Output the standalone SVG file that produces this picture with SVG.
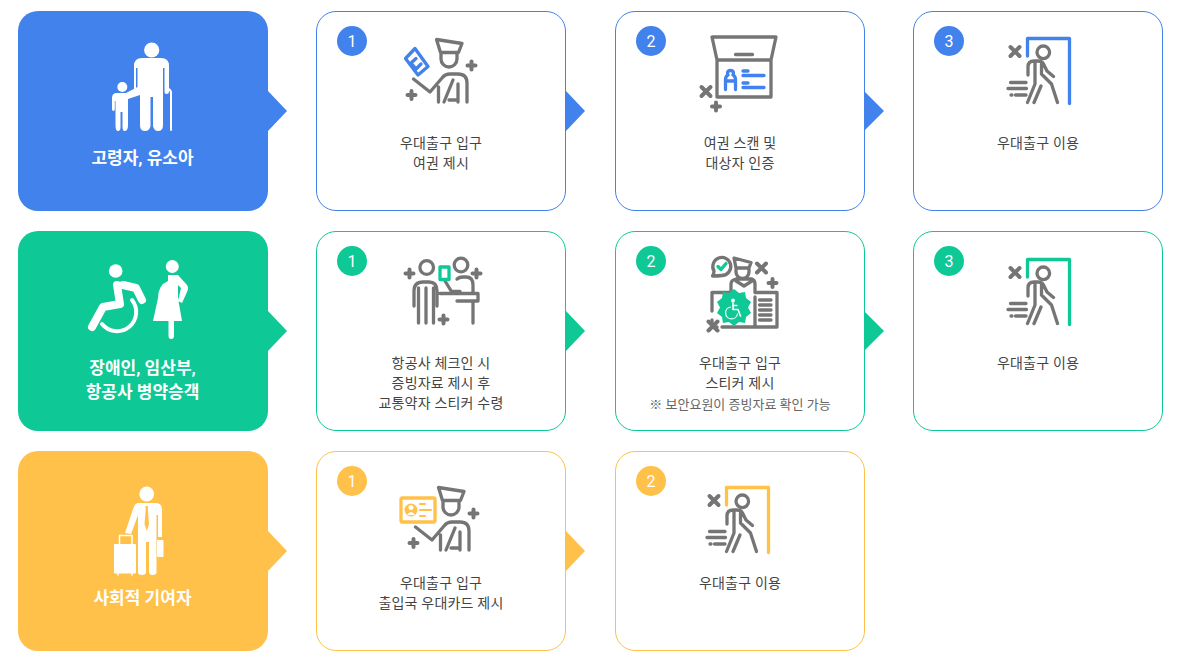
<svg xmlns="http://www.w3.org/2000/svg" width="1180" height="661" viewBox="0 0 1180 661">
<style>
text{font-family:Roboto,"Noto Sans CJK KR",sans-serif;text-anchor:middle}
.lbl{font-size:14px;fill:#444;letter-spacing:.2px}
.sm{font-size:13px;fill:#666}
.hd{font-size:17px;font-weight:700;fill:#fff}
.num{font-size:16px;fill:#fff}
.card{fill:#fff;stroke-width:1}
.blue{color:#4282ec;fill:#4282ec}
.green{color:#0ec896;fill:#0ec896}
.yellow{color:#ffc149;fill:#ffc149}
.cs{stroke:currentColor;fill:none}
.g{fill:none;stroke:#757575;stroke-width:3.300;stroke-linecap:round;stroke-linejoin:round}
.t{fill:none;stroke:#757575;stroke-width:4;stroke-linecap:round;stroke-linejoin:round}
.c{fill:none;stroke:currentColor;stroke-width:3.300;stroke-linecap:round;stroke-linejoin:round}
.w{fill:none;stroke:#fff;stroke-linecap:round;stroke-linejoin:round}
</style>
<defs>
<g id="walker">
<path class="c" d="M1027.500 56V38.500H1069.500V103.500"/>
<circle class="g" cx="1043.300" cy="52.300" r="6.300"/>
<path class="t" d="M1010.500 47l9 9m0-9l-9 9"/>
<path class="g" d="M1028 75V67Q1028 61 1034 61H1038Q1042 61 1043.500 64L1047 71L1053.500 76.500M1035 63V84L1027.500 102.500M1041.500 64V74L1051.500 84L1057.500 102.500M1041 86L1034 102.500M1008 88.500H1026.500M1010.500 82.500H1026M1011 95H1012M1015.500 95H1026"/>
</g>
<g id="officer">
<path class="g" d="M436.500 39.500L462 43.500L458.500 52.500H440.500ZM441 53V59A8 8 0 0 0 457 59V53M413.500 79L430 92L442 78Q445 74 450 74H458Q467 74 467 83V102M438.500 102V87M444 102L453 80M449 100H458M458 84V102"/>
<path class="t" d="M471.500 61.500v8m-4-4h8M411.500 91v8m-4-4h8"/>
</g>
<g id="wheelIcon">
<circle cx="0" cy="-8.500" r="1.900" fill="#fff"/>
<path class="w" stroke-width="1.600" d="M0-6V.5H5L7.500 7"/>
<path class="w" stroke-width="1.200" d="M-2.500-2A6 6 0 1 0 4.500 5"/>
<path class="w" stroke-width="1.300" d="M0-3.500H4"/>
</g>
</defs>

<g id="connectors">
<path class="blue" d="M268 91L287 111L268 131Z"/>
<path class="blue" d="M566 91L585 111L566 131Z"/>
<path class="blue" d="M864 91L884 111L864 131Z"/>
<path class="green" d="M268 311L287 331L268 351Z"/>
<path class="green" d="M566 311L585 331L566 351Z"/>
<path class="green" d="M864 311L884 331L864 351Z"/>
<path class="yellow" d="M268 531L287 551L268 571Z"/>
<path class="yellow" d="M566 531L585 551L566 571Z"/>
</g>

<g id="group-elderly">
<rect class="blue" x="18" y="11" width="250" height="200" rx="20"/>
<circle cx="151.700" cy="50" r="7.600" fill="#fff"/>
<path fill="#fff" d="M142 58H161Q169 58 169 66V92Q169 94 166.500 94Q164.500 94 164.500 92V68H163V125Q163 131 158 131Q154 131 153 126V97H150.500V126Q149.500 131 145 131Q140 131 140 125V95L128 99V125Q128 131 124.500 131Q122.500 131 122.500 127V112H120.500V127Q120.500 131 118 131Q115.500 131 115.500 125V101H114.800V109Q114.800 111 113.500 111Q112 111 112 109V98Q112 93 117 93H126L137.500 87V68H136V92Q135 94 134 94V66Q134 58 142 58Z"/>
<circle cx="122.300" cy="87" r="5" fill="#fff"/>
<path class="w" stroke-width="2" d="M167 89Q171 89 171 93V130"/>
<text class="hd" x="142.500" y="164">고령자, 유소아</text>
</g>
<g id="group-disabled">
<rect class="green" x="18" y="231" width="250" height="200" rx="20"/>
<circle cx="115.700" cy="271" r="6.800" fill="#fff"/>
<path class="w" stroke-width="8" d="M117 285L120 304L103 307L92 327M123 285L136 288L142 300"/>
<path class="w" stroke-width="4" d="M102 324A18.500 18.500 0 1 0 132 300"/>
<circle cx="172.300" cy="266.500" r="6.500" fill="#fff"/>
<path fill="#fff" d="M168 275H178L187 285Q189 288 187 292L182 303L178 301L181 288L178 285V298L182 321H174V336Q174 339 171.200 339Q168.500 339 168.500 336V321H153L158 298Q158 285 168 281Z"/>
<text class="hd" x="142.500" y="374">장애인, 임산부,</text>
<text class="hd" x="142.500" y="398">항공사 병약승객</text>
</g>
<g id="group-contributor">
<rect class="yellow" x="18" y="451" width="250" height="200" rx="20"/>
<circle cx="146.700" cy="494" r="7.400" fill="#fff"/>
<path fill="#fff" d="M138 503H156Q162 503 162 510V537H158V515H156.500V572Q156.500 575 152.500 575Q149 575 149 572V542H146V572Q146 575 142 575Q138 575 138 572V515L131 534L125 533L133 509Q135 503 138 503Z"/>
<path fill="#ffc149" d="M145.500 506H148L147.800 509L149 524L146.800 531L144.500 524L145.700 509Z"/>
<rect x="114" y="544" width="22" height="29.500" rx="1" fill="#fff"/>
<path class="w" stroke-width="1.500" d="M119.500 544V535.500H132V544M118 573.500V575M132 573.500V575"/>
<rect x="157" y="540" width="6.500" height="17" rx="1" fill="#fff"/>
<text class="hd" x="142.500" y="604">사회적 기여자</text>
</g>

<g id="r1-step1" class="blue">
<rect class="card cs" x="316.500" y="11.500" width="249" height="199" rx="19.500"/>
<circle cx="352" cy="41" r="15"/>
<text class="num" x="352" y="46.500">1</text>
<use href="#officer"/>
<path class="c" d="M405.500 58.500L415 48.500L428 66.500L418 75ZM416 58.500L411 63L416 69L421 64"/>
<text class="lbl" x="441" y="148">우대출구 입구</text>
<text class="lbl" x="441" y="168">여권 제시</text>
</g>
<g id="r1-step2" class="blue">
<rect class="card cs" x="615.500" y="11.500" width="249" height="199" rx="19.500"/>
<circle cx="651" cy="41" r="15"/>
<text class="num" x="651" y="46.500">2</text>
<path class="g" d="M712 37H776L771 60H717ZM717 60V97H771V60M735.500 54.500H752.500"/>
<path class="t" d="M701.500 87l9 9m0-9l-9 9M716 102.500v8m-4-4h8"/>
<path class="c" d="M725.500 89.500V80Q725.500 76 728 75Q726.500 70.500 730.500 70.500Q734.500 70.500 733 75Q735.500 76 735.500 80V89.500M726 81H735M743 71H748M743 75.500H764M743 83H748M743 87.500H764"/>
<text class="lbl" x="740" y="148">여권 스캔 및</text>
<text class="lbl" x="740" y="168">대상자 인증</text>
</g>
<g id="r1-step3" class="blue">
<rect class="card cs" x="913.500" y="11.500" width="249" height="199" rx="19.500"/>
<circle cx="949" cy="41" r="15"/>
<text class="num" x="949" y="46.500">3</text>
<use href="#walker"/>
<text class="lbl" x="1038" y="148">우대출구 이용</text>
</g>

<g id="r2-step1" class="green">
<rect class="card cs" x="316.500" y="231.500" width="249" height="199" rx="19.500"/>
<circle cx="352" cy="261" r="15"/>
<text class="num" x="352" y="266.500">1</text>
<path class="g" d="M414 306V291Q414 282 423 282H429Q437 282 437 291V306M418.500 288V323M426 288V323M433.500 288V323M445 281L451.500 291.500H460M457 279Q459 277 463 277H466Q473 277 473 285V292M440 293.500H478V301H457M473 302V323"/>
<path class="t" d="M409.500 269.500v8m-4-4h8M476.500 269.500v8m-4-4h8M443.500 315.500v8m-4-4h8"/>
<circle class="g" cx="426.700" cy="267.500" r="6.800"/>
<circle class="g" cx="461" cy="265" r="6.800"/>
<rect class="c" x="440" y="267" width="9" height="12.500"/>
<text class="lbl" x="441" y="368">항공사 체크인 시</text>
<text class="lbl" x="441" y="388">증빙자료 제시 후</text>
<text class="lbl" x="441" y="408">교통약자 스티커 수령</text>
</g>
<g id="r2-step2" class="green">
<rect class="card cs" x="615.500" y="231.500" width="249" height="199" rx="19.500"/>
<circle cx="651" cy="261" r="15"/>
<text class="num" x="651" y="266.500">2</text>
<path class="g" d="M731 292V284Q731 280 736 279H752Q755 280 755 284V292M734 258L751 262.500L749 268H736ZM736 269V272A6 6 0 0 0 749 272V269M736 281L744 286L752 281M712 311V292.500H730M755 292.500H777V327H755M712 320V327H717M755 297V327M722 327H754M759.500 300H771M759.500 305H771M759.500 310H771M759.500 315H771M759.500 320H771"/>
<path class="t" d="M757 263.500l9 9m0-9l-9 9M772.500 279v8m-4-4h8M708.500 321.500l9 9m0-9l-9 9"/>
<path class="g" d="M722 275.500A9 9 0 1 0 714 271Q714 274 712.500 276Q718 276 722 275.500Z"/>
<path class="c" d="M718 266.500l3 3l5-6"/>
<path d="M734 289L739 293L745 292L746 298L751 302L748 307.500L751 313L746 317L745 323L739 322L734 326L729 322L723 323L722 317L717 313L720 307.500L717 302L722 298L723 292L729 293Z"/>
<use href="#wheelIcon" x="733" y="309"/>
<text class="lbl" x="740" y="368">우대출구 입구</text>
<text class="lbl" x="740" y="388">스티커 제시</text>
<text class="sm" x="740" y="409">※ 보안요원이 증빙자료 확인 가능</text>
</g>
<g id="r2-step3" class="green">
<rect class="card cs" x="913.500" y="231.500" width="249" height="199" rx="19.500"/>
<circle cx="949" cy="261" r="15"/>
<text class="num" x="949" y="266.500">3</text>
<use href="#walker" y="221"/>
<text class="lbl" x="1038" y="368">우대출구 이용</text>
</g>

<g id="r3-step1" class="yellow">
<rect class="card cs" x="316.500" y="451.500" width="249" height="199" rx="19.500"/>
<circle cx="352" cy="481" r="15"/>
<text class="num" x="352" y="486.500">1</text>
<use href="#officer" x="2" y="448"/>
<rect class="c" x="401" y="498" width="34" height="24" rx="1.500"/>
<circle cx="411" cy="510" r="6.500"/>
<path d="M411 505a2.500 2.500 0 0 1 0 5a2.500 2.500 0 0 1 0-5M407 515q4-6 8 0Z" fill="#fff"/>
<path class="c" d="M420 504H425M420 510H431M420 516H425" style="stroke-width:2"/>
<text class="lbl" x="441" y="588">우대출구 입구</text>
<text class="lbl" x="441" y="608">출입국 우대카드 제시</text>
</g>
<g id="r3-step2" class="yellow">
<rect class="card cs" x="615.500" y="451.500" width="249" height="199" rx="19.500"/>
<circle cx="651" cy="481" r="15"/>
<text class="num" x="651" y="486.500">2</text>
<use href="#walker" x="-301" y="449"/>
<text class="lbl" x="740" y="588">우대출구 이용</text>
</g>
</svg>
